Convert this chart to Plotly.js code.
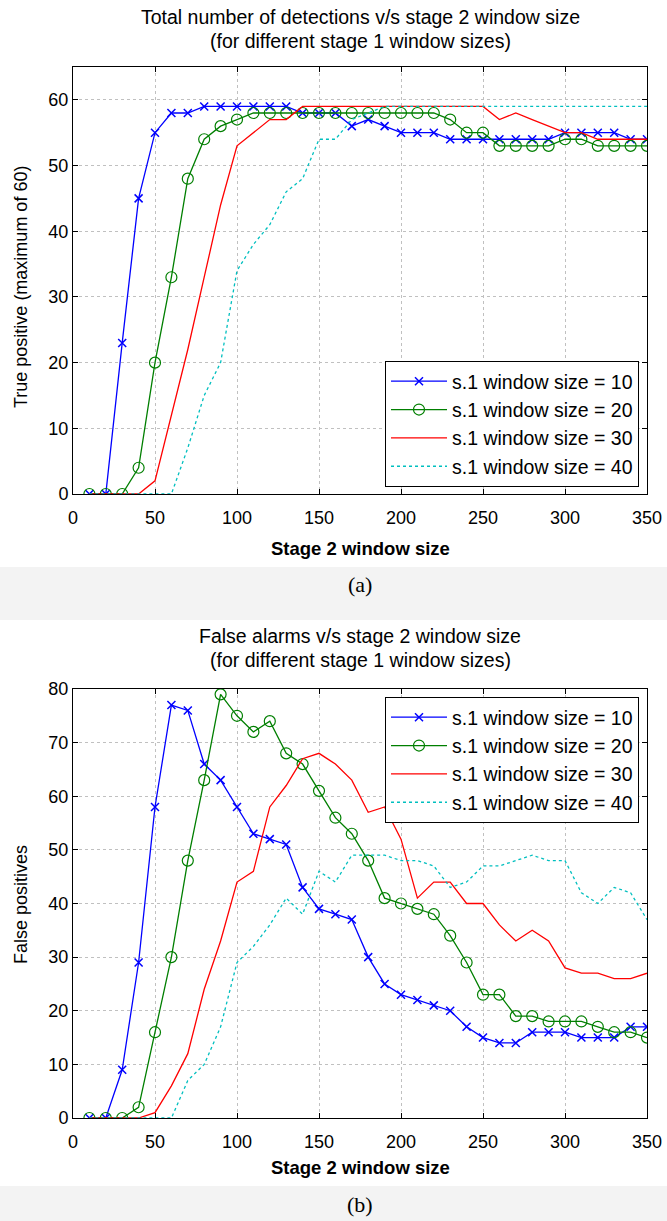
<!DOCTYPE html>
<html>
<head>
<meta charset="utf-8">
<script src="https://cdn.plot.ly/plotly-3.0.1.min.js"></script>
<style>
  html, body { margin: 0; padding: 0; background: #ffffff; }
  #chart { width: 667px; height: 1221px; }
</style>
</head>
<body>
<div id="chart"></div>
<script>
// Stage 2 window sizes (x values)
var stage2 = [10,20,30,40,50,60,70,80,90,100,110,120,130,140,150,160,170,180,190,200,
              210,220,230,240,250,260,270,280,290,300,310,320,330,340,350];

// (a) True positives (maximum of 60)
var tp10 = [0,0,23,45,55,58,58,59,59,59,59,59,59,58,58,58,56,57,56,55,55,55,54,54,54,54,54,54,54,55,55,55,55,54,54];
var tp20 = [0,0,0,4,20,33,48,54,56,57,58,58,58,58,58,58,58,58,58,58,58,58,57,55,55,53,53,53,53,54,54,53,53,53,53];
var tp30 = [0,0,0,0,2,12,22,33,44,53,55,57,57,59,59,59,59,59,59,59,59,59,59,59,59,57,58,57,56,55,55,54,54,54,54];
var tp40 = [0,0,0,0,0,0,7,15,20,34,38,41,46,48,54,54,57,58,59,59,59,59,59,59,59,59,59,59,59,59,59,59,59,59,59];

// (b) False alarms
var fa10 = [0,0,9,29,58,77,76,66,63,58,53,52,51,43,39,38,37,30,25,23,22,21,20,17,15,14,14,16,16,16,15,15,15,17,17];
var fa20 = [0,0,0,2,16,30,48,63,79,75,72,74,68,66,61,56,53,48,41,40,39,38,34,29,23,23,19,19,18,18,18,17,16,16,15];
var fa30 = [0,0,0,0,1,6,12,24,33,44,46,58,62,67,68,66,63,57,58,52,41,44,44,40,40,36,33,35,33,28,27,27,26,26,27];
var fa40 = [0,0,0,0,0,0,7,10,17,29,32,36,41,38,46,44,49,49,49,48,48,47,43,44,47,47,48,49,48,48,42,40,43,42,37];

var seriesNames = ['s.1 window size = 10','s.1 window size = 20','s.1 window size = 30','s.1 window size = 40'];
var titleA = ['Total number of detections v/s stage 2 window size', '(for different stage 1 window sizes)'];
var titleB = ['False alarms v/s stage 2 window size', '(for different stage 1 window sizes)'];
var yTitleA = 'True positive (maximum of 60)';
var yTitleB = 'False positives';
var xTitle = 'Stage 2 window size';
var yTicksA = [0,10,20,30,40,50,60];
var yTicksB = [0,10,20,30,40,50,60,70,80];
var xTicks = [0,50,100,150,200,250,300,350];

var styles = [
  {color:'#0000ff', dash:'solid', mode:'lines+markers', marker:{symbol:'x-thin-open', size:8, color:'#0000ff', line:{width:1.5, color:'#0000ff'}}},
  {color:'#007f00', dash:'solid', mode:'lines+markers', marker:{symbol:'circle-open', size:11, color:'#007f00', line:{width:1.2, color:'#007f00'}}},
  {color:'#ff0000', dash:'solid', mode:'lines', marker:null},
  {color:'#00bfbf', dash:'dot', mode:'lines', marker:null}
];

function makeTraces(ys, xa, ya, legendName) {
  return ys.map(function(y, i) {
    var s = styles[i];
    var t = {
      x: stage2, y: y, xaxis: xa, yaxis: ya,
      type: 'scatter', mode: s.mode, name: seriesNames[i],
      legend: legendName,
      line: {color: s.color, width: 1.3, dash: s.dash},
      hoverinfo: 'x+y'
    };
    if (s.marker) t.marker = s.marker;
    return t;
  });
}

var traces = makeTraces([tp10, tp20, tp30, tp40], 'x', 'y', 'legend')
  .concat(makeTraces([fa10, fa20, fa30, fa40], 'x2', 'y2', 'legend2'));

var FONT = 'Liberation Sans, Arial, Helvetica, sans-serif';
var SERIF = 'Liberation Serif, Times New Roman, serif';

function axisBase(isX) {
  var a = {
    showline: true, linecolor: '#000', linewidth: 1, mirror: 'ticks',
    ticks: 'inside', ticklen: 5, tickcolor: '#000', tickwidth: 1,
    showgrid: true, gridcolor: '#c0c0c0', griddash: 'dot', gridwidth: 1,
    zeroline: false, tickfont: {family: FONT, size: 18, color: '#000'},
    fixedrange: true
  };
  if (isX) a.ticklabelstandoff = 7;
  return a;
}

var xa = Object.assign(axisBase(true), {domain:[0,1], anchor:'y', range:[0,350], tickvals: xTicks});
var ya = Object.assign(axisBase(false), {domain:[0.5937,1], anchor:'x', range:[0,65], tickvals: yTicksA});
var xb = Object.assign(axisBase(true), {domain:[0,1], anchor:'y2', range:[0,350], tickvals: xTicks});
var yb = Object.assign(axisBase(false), {domain:[0,0.4082], anchor:'x2', range:[0,80], tickvals: yTicksB});

function legendCfg(x, y, yanchor) {
  return {
    x: x, y: y, xanchor: 'right', yanchor: yanchor, xref: 'paper', yref: 'paper',
    bgcolor: '#ffffff', bordercolor: '#000', borderwidth: 1,
    font: {family: FONT, size: 19.5, color: '#000'},
    tracegroupgap: 0, itemwidth: 56, traceorder: 'normal'
  };
}

function py(p) { return (1118 - p) / 1051; }   // pixel row -> paper y
function px(p) { return (p - 73) / 574; }      // pixel col -> paper x

function ann(text, x, y, font, extra) {
  var a = {text: text, x: x, y: y, xref:'paper', yref:'paper', showarrow:false,
           xanchor:'center', yanchor:'middle', font: font};
  return Object.assign(a, extra || {});
}

var titleFont = {family:FONT, size:19.5, color:'#000'};
var xTitleFont = {family:FONT, size:18.5, color:'#000'};
var yTitleFont = {family:FONT, size:18, color:'#000'};
var labelFont = {family:SERIF, size:22, color:'#000'};

var annotations = [
  ann(titleA[0], 0.5, py(17), titleFont),
  ann(titleA[1], 0.5, py(41), titleFont),
  ann(titleB[0], 0.5, py(636), titleFont),
  ann(titleB[1], 0.5, py(660), titleFont),
  ann('<b>' + xTitle + '</b>', 0.5, py(548), xTitleFont),
  ann('<b>' + xTitle + '</b>', 0.5, py(1167), xTitleFont),
  ann(yTitleA, px(21), py(287), yTitleFont, {textangle: -90}),
  ann(yTitleB, px(21), py(905), yTitleFont, {textangle: -90}),
  ann('(a)', 0.5, py(584), labelFont),
  ann('(b)', 0.5, py(1204), labelFont)
];

var layout = {
  width: 667, height: 1221,
  margin: {l: 73, r: 20, t: 67, b: 103, pad: 0},
  paper_bgcolor: '#ffffff', plot_bgcolor: '#ffffff',
  showlegend: true,
  xaxis: xa, yaxis: ya, xaxis2: xb, yaxis2: yb,
  legend: legendCfg(px(639), py(487), 'bottom'),
  legend2: legendCfg(px(639), py(697), 'top'),
  annotations: annotations,
  shapes: [
    {type:'rect', xref:'paper', yref:'paper', x0:-0.2, x1:1.1, y0:py(620), y1:py(567), fillcolor:'#f3f3f3', line:{width:0}, layer:'below'},
    {type:'rect', xref:'paper', yref:'paper', x0:-0.2, x1:1.1, y0:py(1230), y1:py(1186), fillcolor:'#f3f3f3', line:{width:0}, layer:'below'}
  ]
};

Plotly.newPlot('chart', traces, layout, {displayModeBar: false, staticPlot: true});
</script>
</body>
</html>
